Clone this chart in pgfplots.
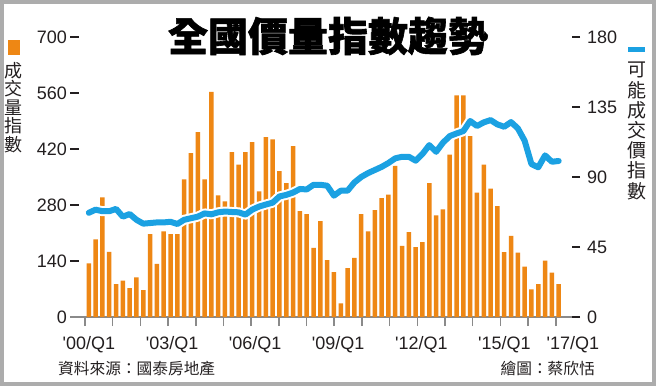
\documentclass[border=0pt]{standalone}
\usepackage{pgfplots}
\pgfplotsset{compat=1.18}
\usepackage{fontspec}
\setmainfont{Liberation Sans}
\newfontfamily\cjk{Noto Sans CJK TC}
\newfontfamily\cjktitle{Noto Sans CJK TC}[BoldFeatures={FakeBold=1.5}]
\definecolor{barorange}{HTML}{EE8714}
\definecolor{lineblue}{HTML}{1BA1E2}
\definecolor{axgray}{HTML}{8A8A8A}
\definecolor{txt}{HTML}{231F20}
\begin{document}
\begin{tikzpicture}
\useasboundingbox (0pt,0pt) rectangle (656pt,386pt);
\fill[white] (0pt,0pt) rectangle (656pt,386pt);
\draw[line width=4pt, color=gray!65] (2pt,2pt) rectangle (654pt,384pt);
% bars
\begin{axis}[
 at={(70pt,69pt)}, anchor=south west,
 width=510pt, height=280pt, scale only axis,
 xmin=-2.76, xmax=72.13, ymin=0, ymax=700,
 axis x line*=bottom, axis y line*=left,
 y axis line style={draw=none},
 x axis line style={axgray, line width=1.5pt},
 ytick={0,140,280,420,560,700},
 xtick={-0.56,3.51,7.57,11.64,15.71,19.78,23.84,27.91,31.98,36.04,40.11,44.18,48.24,52.31,56.38,60.45,64.51,68.58},
 xticklabels={\textquotesingle00/Q1,,,\textquotesingle03/Q1,,,\textquotesingle06/Q1,,,\textquotesingle09/Q1,,,\textquotesingle12/Q1,,,\textquotesingle15/Q1,,\hspace{26pt}\textquotesingle17/Q1},
 tick align=inside,
 major tick length=9pt,
 ytick style={txt, line width=1.2pt},
 xtick style={axgray, line width=1.5pt, yshift=-9pt},
 tick label style={font=\fontsize{18}{20}\selectfont, color=txt},
 /pgf/number format/assume math mode=true,
 yticklabel style={anchor=east, inner sep=0pt, xshift=-3pt},
 xticklabel style={anchor=base, yshift=-32pt, xshift=4pt},
]
\addplot[ybar, bar width=4.5pt, fill=barorange, draw=none] coordinates {
(0,134)(1,194)(2,299)(3,163)(4,82)(5,91)(6,72)(7,99)(8,67)(9,207)
(10,133)(11,214)(12,207)(13,207)(14,344)(15,410)(16,462)(17,344)(18,563)(19,304)
(20,289)(21,412)(22,381)(23,412)(24,437)(25,314)(26,450)(27,444)(28,365)(29,335)
(30,427)(31,265)(32,257)(33,173)(34,240)(35,142)(36,112)(37,34)(38,122)(39,148)
(40,257)(41,214)(42,267)(43,297)(44,306)(45,378)(46,178)(47,212)(48,175)(49,187)
(50,335)(51,254)(52,269)(53,406)(54,554)(55,554)(56,452)(57,311)(58,381)(59,321)
(60,277)(61,162)(62,203)(63,161)(64,126)(65,69)(66,82)(67,141)(68,111)(69,82)
};
\end{axis}
% line
\begin{axis}[
 at={(70pt,69pt)}, anchor=south west,
 width=510pt, height=280pt, scale only axis,
 xmin=-2.76, xmax=72.13, ymin=0, ymax=180,
 axis y line*=right, axis x line=none,
 y axis line style={draw=none},
 ytick={0,45,90,135,180},
 tick align=inside,
 major tick length=8pt,
 ytick style={txt, line width=1.2pt},
 tick label style={font=\fontsize{18}{20}\selectfont, color=txt},
 /pgf/number format/assume math mode=true,
 yticklabel style={anchor=west, inner sep=0pt, xshift=7pt},
]
\addplot[white, line width=10pt, line join=round, line cap=round] coordinates {
(0,67)(1,69)(2,68)(3,68)(4,69.5)(5,64.5)(6,66.2)(7,62.5)(8,60)(9,60.4)
(10,60.8)(11,60.8)(12,61.2)(13,59.8)(14,62.5)(15,63.5)(16,64.5)(17,66.6)(18,66)(19,67.3)
(20,67.8)(21,67.5)(22,67.3)(23,65.8)(24,69)(25,71)(26,72.3)(27,73.5)(28,77.5)(29,78.5)
(30,80)(31,82.3)(32,82)(33,85)(34,85)(35,84.4)(36,78)(37,81.2)(38,81.2)(39,86.5)
(40,90)(41,92.5)(42,94.5)(43,96.5)(44,99)(45,102)(46,103)(47,103)(48,100.5)(49,104.8)
(50,110.5)(51,106.2)(52,112)(53,116.3)(54,118)(55,119.5)(56,126)(57,122.8)(58,125.1)(59,126.6)
(60,123.8)(61,122.3)(62,125.3)(63,121.3)(64,113.3)(65,98.3)(66,96.2)(67,103.9)(68,99.8)(69,100.3)
};
\addplot[lineblue, line width=6pt, line join=round, line cap=round] coordinates {
(0,67)(1,69)(2,68)(3,68)(4,69.5)(5,64.5)(6,66.2)(7,62.5)(8,60)(9,60.4)
(10,60.8)(11,60.8)(12,61.2)(13,59.8)(14,62.5)(15,63.5)(16,64.5)(17,66.6)(18,66)(19,67.3)
(20,67.8)(21,67.5)(22,67.3)(23,65.8)(24,69)(25,71)(26,72.3)(27,73.5)(28,77.5)(29,78.5)
(30,80)(31,82.3)(32,82)(33,85)(34,85)(35,84.4)(36,78)(37,81.2)(38,81.2)(39,86.5)
(40,90)(41,92.5)(42,94.5)(43,96.5)(44,99)(45,102)(46,103)(47,103)(48,100.5)(49,104.8)
(50,110.5)(51,106.2)(52,112)(53,116.3)(54,118)(55,119.5)(56,126)(57,122.8)(58,125.1)(59,126.6)
(60,123.8)(61,122.3)(62,125.3)(63,121.3)(64,113.3)(65,98.3)(66,96.2)(67,103.9)(68,99.8)(69,100.3)
};
\end{axis}
% title and legends
\node[font=\cjktitle\bfseries\fontsize{40}{44}\selectfont, color=black] at (328pt,350pt) {全國價量指數趨勢};
\fill[barorange] (8pt,331pt) rectangle (20pt,346pt);
\node[anchor=north, align=center, inner sep=0pt, color=txt, font=\cjk\fontsize{18}{18.5}\selectfont] at (14pt,324pt) {成\\交\\量\\指\\數};
\fill[lineblue] (628pt,334pt) rectangle (645pt,339pt);
\node[anchor=north, align=center, inner sep=0pt, color=txt, font=\cjk\fontsize{19}{20.2}\selectfont] at (637pt,324pt) {可\\能\\成\\交\\價\\指\\數};
\node[anchor=west, inner sep=0pt, color=txt, font=\cjk\fontsize{15.7}{16}\selectfont] at (58pt,17.5pt) {資料來源：國泰房地產};
\node[anchor=east, inner sep=0pt, color=txt, font=\cjk\fontsize{15.7}{16}\selectfont] at (595pt,17.5pt) {繪圖：蔡欣恬};
\end{tikzpicture}
\end{document}
